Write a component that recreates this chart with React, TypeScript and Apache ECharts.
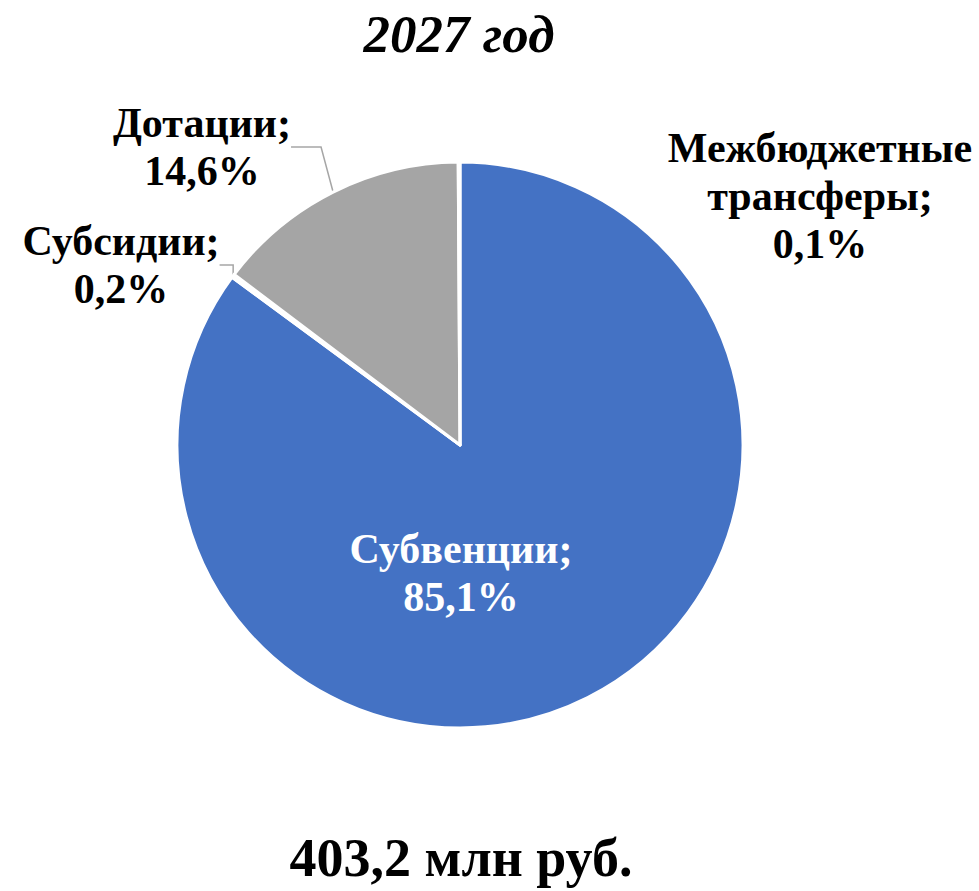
import React, { useEffect, useRef } from "react";
import * as echarts from "echarts";

const categories = ["Субвенции", "Субсидии", "Дотации", "Межбюджетные трансферы"];
const values = [85.1, 0.2, 14.6, 0.1];
const sliceColors = ["#4472C4", "#FFFFFF", "#A5A5A5", "#FFFFFF"];
const titleText = "2027 год";
const totalText = "403,2 млн руб.";

// label anchor points (label layout only)
const labelPos = [
  [461, 573],
  [121, 265],
  [202, 147],
  [820, 196],
];

const FONT = "'Liberation Serif'";

export default function App() {
  const ref = useRef<HTMLDivElement>(null);
  useEffect(() => {
    if (!ref.current) return;
    const chart = echarts.init(ref.current, undefined, { renderer: "svg" });
    const data = categories.map((name, i) => ({
      name,
      value: values[i],
      itemStyle: { color: sliceColors[i] },
      label: {
        color: i === 0 ? "#FFFFFF" : "#000000",
        fontFamily: FONT,
        fontWeight: "bold",
        fontSize: 42,
        lineHeight: 48,
      },
      labelLine: { show: i === 1 || i === 2 },
    }));
    chart.setOption({
      animation: false,
      backgroundColor: "#FFFFFF",
      graphic: [
        {
          type: "text",
          x: 459,
          y: 34,
          style: {
            text: titleText,
            align: "center",
            verticalAlign: "middle",
            fontFamily: FONT,
            fontStyle: "italic",
            fontWeight: "bold",
            fontSize: 53,
            fill: "#000000",
          },
        },
        {
          type: "text",
          x: 461,
          y: 858,
          style: {
            text: totalText,
            align: "center",
            verticalAlign: "middle",
            fontFamily: FONT,
            fontWeight: "bold",
            fontSize: 54,
            fill: "#000000",
          },
        },
      ],
      series: [
        {
          type: "pie",
          center: [460, 445],
          radius: 283,
          startAngle: 90,
          clockwise: true,
          avoidLabelOverlap: false,
          itemStyle: { borderColor: "#FFFFFF", borderWidth: 3 },
          label: {
            show: true,
            position: "outside",
            fontFamily: FONT,
            fontWeight: "bold",
            fontSize: 42,
            lineHeight: 48,
            align: "center",
            formatter: (p: any) =>
              `${String(p.name).replace(" ", "\n")};\n${Number(p.value)
                .toFixed(1)
                .replace(".", ",")}%`,
          },
          labelLine: {
            show: true,
            lineStyle: { color: "#A6A6A6", width: 1.5 },
          },
          labelLayout: (params: any) => {
            const p = labelPos[params.dataIndex];
            return { x: p[0], y: p[1], align: "center", verticalAlign: "middle" };
          },
          data,
        },
      ],
    });
    return () => chart.dispose();
  }, []);
  return (
    <div
      ref={ref}
      style={{ position: "absolute", left: 0, top: 0, width: 979, height: 891 }}
    />
  );
}
